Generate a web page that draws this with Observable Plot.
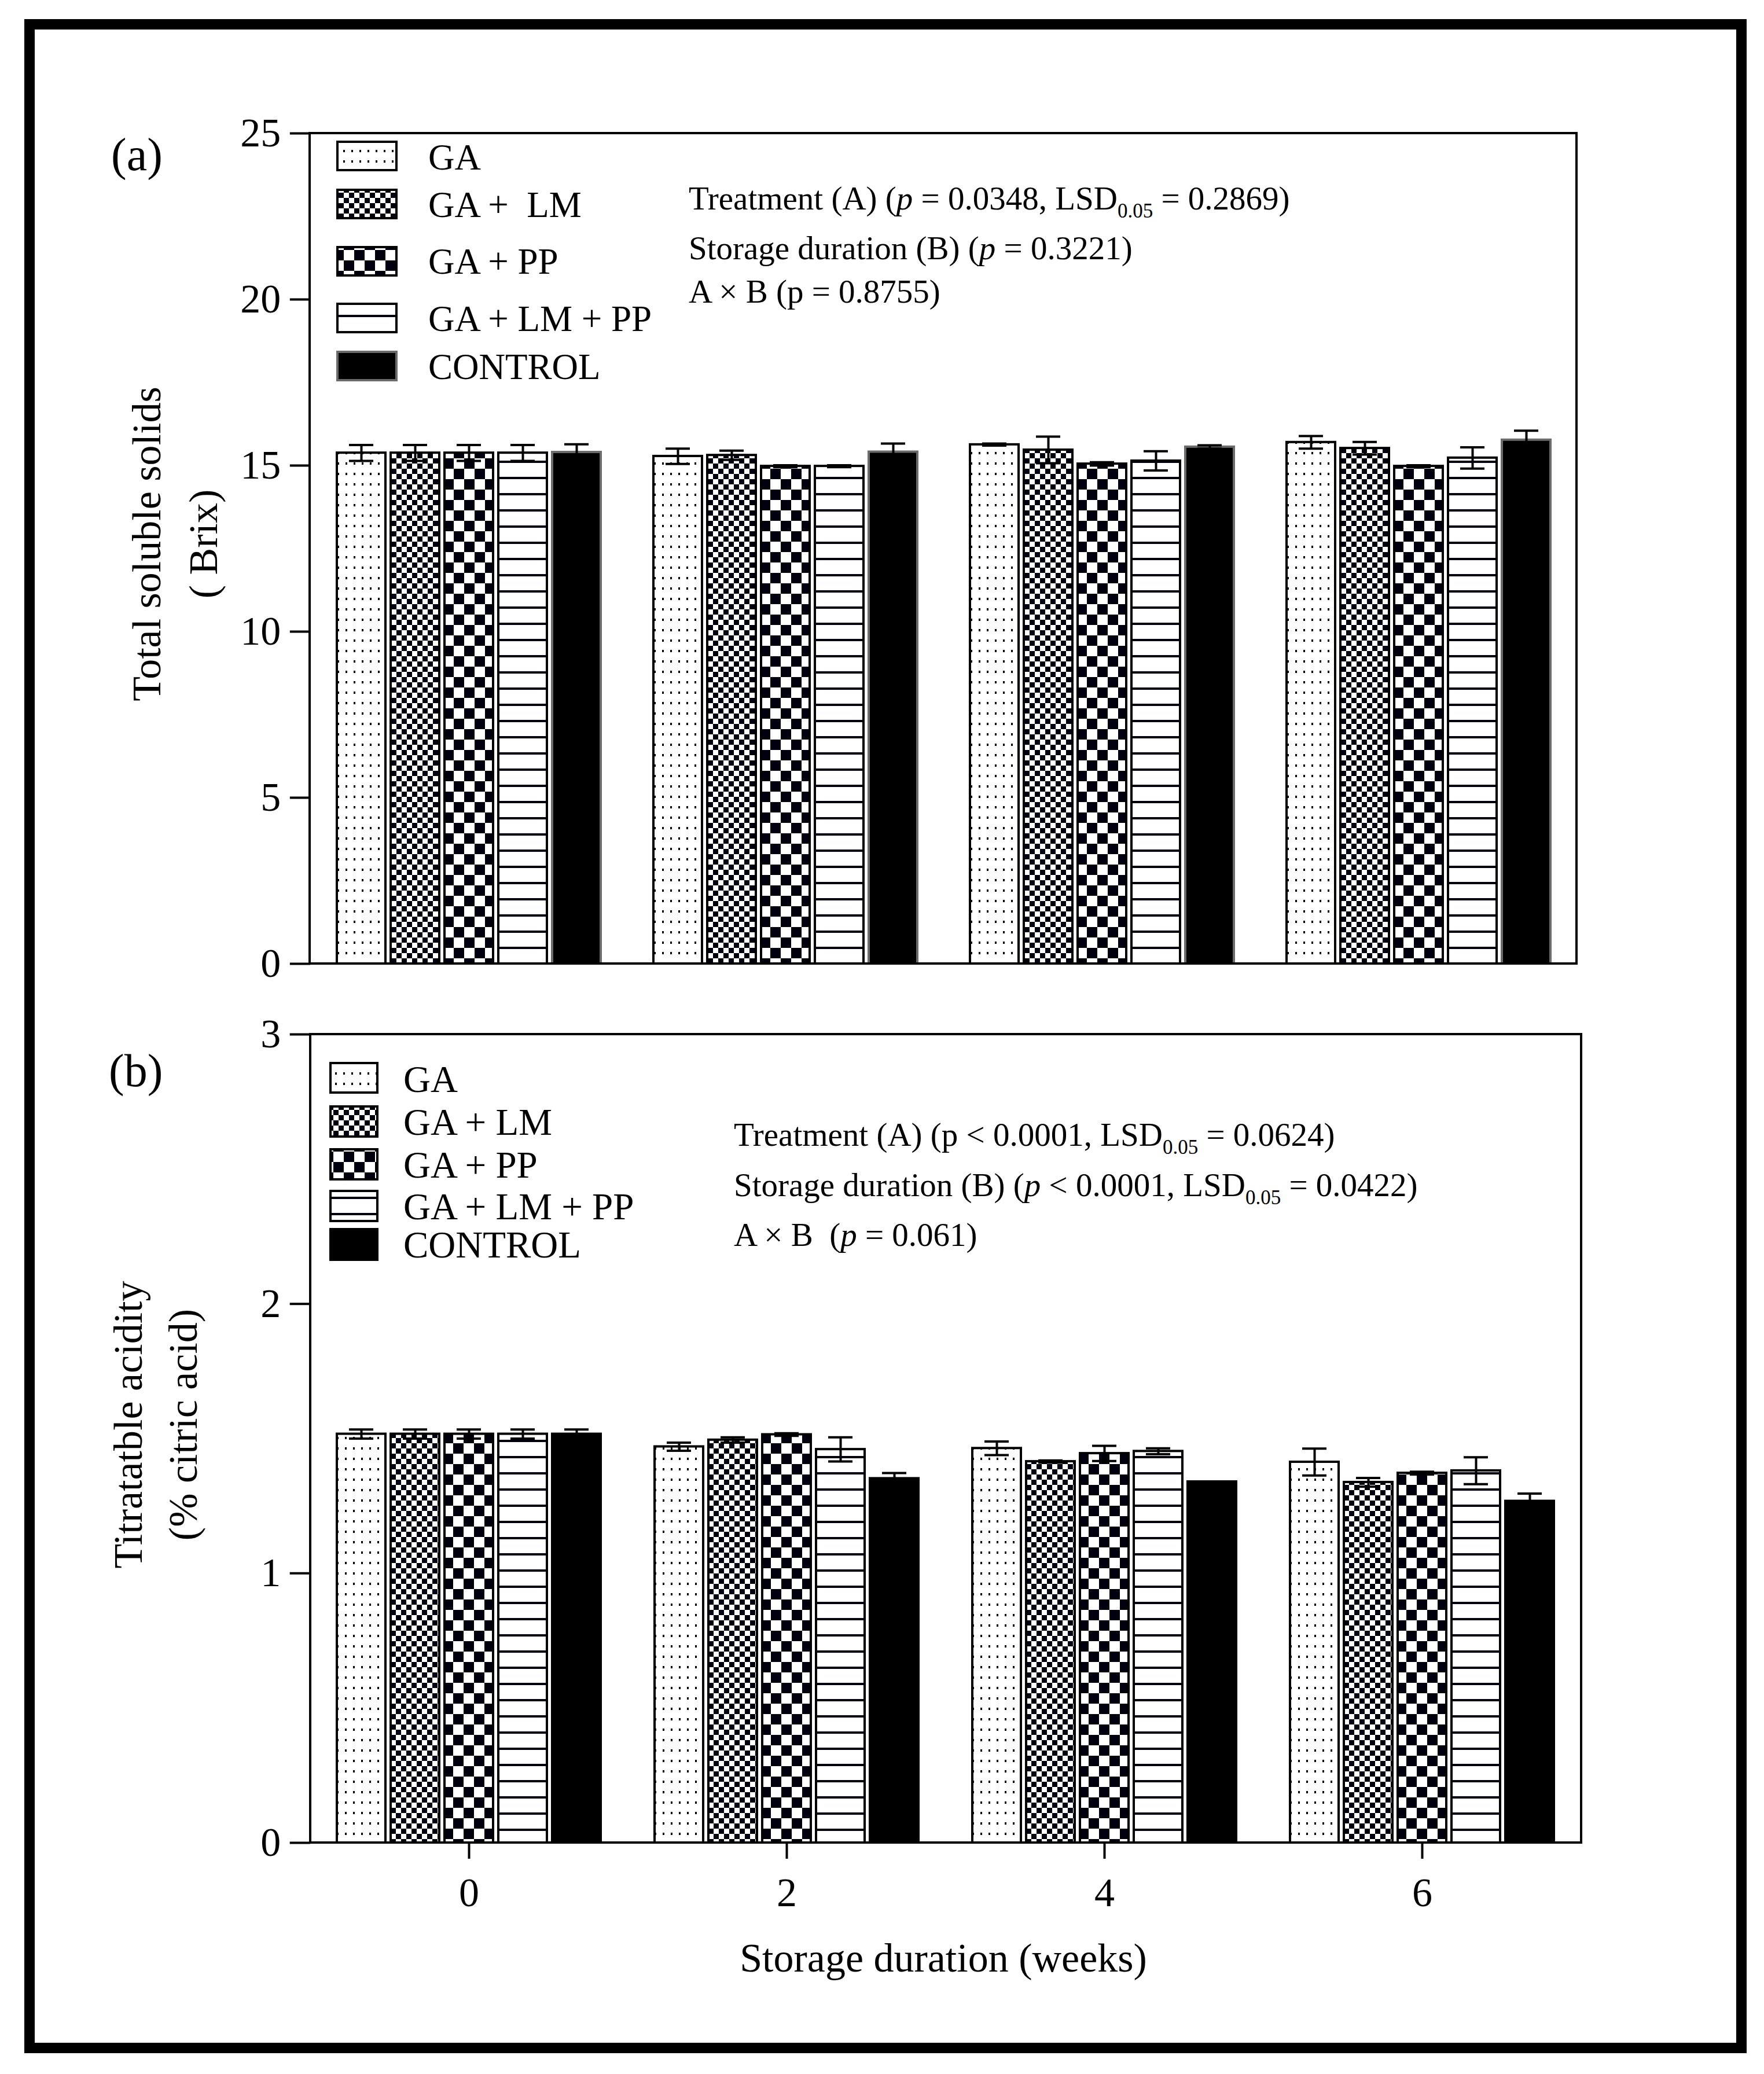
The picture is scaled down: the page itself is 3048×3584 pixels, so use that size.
<!DOCTYPE html>
<html>
<head>
<meta charset="utf-8">
<script src="https://cdn.jsdelivr.net/npm/d3@7"></script>
<script src="https://cdn.jsdelivr.net/npm/@observablehq/plot@0.6"></script>
<style>
html, body { margin: 0; padding: 0; background: #fff; }
#page { position: relative; width: 3048px; height: 3584px; overflow: hidden; background: #fff; font-family: "Liberation Serif", serif; }
#border { position: absolute; left: 42px; top: 33px; width: 2976px; height: 3515px; border: 18px solid #000; box-sizing: border-box; pointer-events: none; }
</style>
</head>
<body>
<div id="page"></div>
<script>
// ---------- data ----------
const weeks = ["0", "2", "4", "6"];
const treatments = ["GA", "GA + LM", "GA + PP", "GA + LM + PP", "CONTROL"];
const legendLabelsA = ["GA", "GA +  LM", "GA + PP", "GA + LM + PP", "CONTROL"];
const legendLabelsB = ["GA", "GA + LM", "GA + PP", "GA + LM + PP", "CONTROL"];
// rows follow treatments, columns follow weeks
const tssMean = [
  [15.38, 15.28, 15.63, 15.70],
  [15.38, 15.31, 15.47, 15.52],
  [15.38, 14.98, 15.05, 14.98],
  [15.38, 14.98, 15.14, 15.23],
  [15.40, 15.41, 15.56, 15.77]
];
const tssErr = [
  [0.24, 0.23, 0.03, 0.19],
  [0.24, 0.14, 0.40, 0.19],
  [0.24, 0.03, 0.05, 0.03],
  [0.24, 0.03, 0.29, 0.32],
  [0.24, 0.25, 0.05, 0.28]
];
const taMean = [
  [1.517, 1.470, 1.464, 1.413],
  [1.517, 1.495, 1.415, 1.338],
  [1.517, 1.515, 1.445, 1.372],
  [1.517, 1.460, 1.453, 1.381],
  [1.517, 1.352, 1.340, 1.268]
];
const taErr = [
  [0.017, 0.015, 0.025, 0.050],
  [0.017, 0.010, 0.004, 0.016],
  [0.017, 0.005, 0.028, 0.005],
  [0.017, 0.045, 0.011, 0.050],
  [0.017, 0.020, 0.000, 0.028]
];
const yTicksA = [0, 5, 10, 15, 20, 25];
const yTicksB = [0, 1, 2, 3];
const yLabelA = ["Total soluble solids", "( Brix)"];
const yLabelB = ["Titratatble acidity", "(% citric acid)"];
const xLabel = "Storage duration (weeks)";
const annotA = [
  [{t: "Treatment (A) ("}, {t: "p", i: 1}, {t: " = 0.0348, LSD"}, {t: "0.05", sub: 1}, {t: " = 0.2869)"}],
  [{t: "Storage duration (B) ("}, {t: "p", i: 1}, {t: " = 0.3221)"}],
  [{t: "A × B (p = 0.8755)"}]
];
const annotB = [
  [{t: "Treatment (A) (p < 0.0001, LSD"}, {t: "0.05", sub: 1}, {t: " = 0.0624)"}],
  [{t: "Storage duration (B) ("}, {t: "p", i: 1}, {t: " < 0.0001, LSD"}, {t: "0.05", sub: 1}, {t: " = 0.0422)"}],
  [{t: "A × B  ("}, {t: "p", i: 1}, {t: " = 0.061)"}]
];

// ---------- styling ----------
const DARK = "#00000f";
const FONT = "'Liberation Serif', 'Times New Roman', serif";
const patternKeys = ["dots", "small", "big", "lines", "solid"];
const FX_PAD_INNER = 0.165, FX_PAD_OUTER = 0.0825;

function defsHTML(p) {
  return `
  <pattern id="${p}dots" patternUnits="userSpaceOnUse" width="14" height="18">
    <rect width="14" height="18" fill="#fff"/><rect x="5" y="7" width="3" height="4" fill="#000"/>
  </pattern>
  <pattern id="${p}small" patternUnits="userSpaceOnUse" width="18" height="18">
    <rect width="18" height="18" fill="#fff"/><rect x="0" y="0" width="9" height="9" fill="${DARK}"/><rect x="9" y="9" width="9" height="9" fill="${DARK}"/>
  </pattern>
  <pattern id="${p}big" patternUnits="userSpaceOnUse" width="36" height="36">
    <rect width="36" height="36" fill="#fff"/><rect x="0" y="0" width="18" height="18" fill="${DARK}"/><rect x="18" y="18" width="18" height="18" fill="${DARK}"/>
  </pattern>
  <pattern id="${p}lines" patternUnits="userSpaceOnUse" width="10" height="28">
    <rect width="10" height="28" fill="#fff"/><rect x="0" y="12" width="10" height="4" fill="${DARK}"/>
  </pattern>`;
}

function richText(g, x, y, parts, size) {
  const t = g.append("text").attr("x", x).attr("y", y).attr("font-size", size)
    .attr("text-anchor", "start").attr("fill", "#000").style("white-space", "pre");
  const shift = Math.round(size * 0.25);
  let shifted = 0;
  for (const p of parts) {
    const sp = t.append("tspan").text(p.t);
    if (p.i) sp.attr("font-style", "italic");
    if (p.sub) { sp.attr("font-size", Math.round(size * 0.62)).attr("dy", shift); shifted = shift; }
    else if (shifted) { sp.attr("dy", -shifted); shifted = 0; }
  }
}

function makePanel(o) {
  const rows = [];
  treatments.forEach((t, i) => weeks.forEach((w, j) =>
    rows.push({treatment: t, week: w, value: o.mean[i][j], err: o.err[i][j], k: i})));
  const fill = d => d.k === 4 ? "#000" : `url(#${o.prefix}${patternKeys[d.k]})`;
  const stroke = d => d.k === 4 ? o.controlStroke : "#000";
  const innerW = 3048 - o.ml - o.mr;
  const outerGap = innerW / weeks.length * FX_PAD_OUTER; // distance between axis and first group
  const marks = [
    Plot.axisY({ticks: o.yTicks, tickFormat: d => String(d), tickSize: 35, tickPadding: 16,
                label: null, strokeWidth: 4, dx: -outerGap}),
    Plot.barY(rows, {fx: "week", x: "treatment", y: "value", fill, stroke, strokeWidth: 4}),
    Plot.ruleX(rows, {fx: "week", x: "treatment", y1: d => d.value - d.err, y2: d => d.value + d.err,
                      stroke: "#000", strokeWidth: 4}),
    Plot.tickY(rows, {fx: "week", x: "treatment", y: d => d.value + d.err, stroke: "#000", strokeWidth: 4, inset: 21}),
    Plot.tickY(rows, {fx: "week", x: "treatment", y: d => d.value - d.err, stroke: "#000", strokeWidth: 4, inset: 21})
  ];
  if (o.fxAxis) marks.push(Plot.axisFx({anchor: "bottom", tickSize: 28, tickPadding: 32, label: null, strokeWidth: 4}));
  const svg = Plot.plot({
    width: 3048,
    height: o.height,
    marginLeft: o.ml, marginRight: o.mr, marginTop: o.mt, marginBottom: o.mb,
    style: {fontFamily: FONT, fontSize: "70px", background: "transparent", color: "#000", overflow: "visible"},
    fx: {domain: weeks, paddingInner: FX_PAD_INNER, paddingOuter: FX_PAD_OUTER, axis: o.fxAxis ? undefined : null, label: null},
    x: {domain: treatments, axis: null, paddingInner: 0.1, paddingOuter: 0},
    y: {domain: o.yDomain, label: null},
    color: {type: "identity"},
    marks
  });
  svg.style.position = "absolute";
  svg.style.left = "0px";
  svg.style.top = o.top + "px";
  const s = d3.select(svg);
  s.insert("defs", ":first-child").html(defsHTML(o.prefix));
  // frame
  s.append("rect").attr("x", o.ml).attr("y", o.mt)
    .attr("width", innerW).attr("height", o.height - o.mt - o.mb)
    .attr("fill", "none").attr("stroke", "#000").attr("stroke-width", 4);
  const g = s.append("g").attr("font-family", FONT).attr("fill", "#000").attr("text-anchor", "start");
  // legend
  o.legend.labels.forEach((lab, i) => {
    const sw = o.legend.swatches[i];
    g.append("rect").attr("x", o.legend.x).attr("y", sw[0]).attr("width", o.legend.w).attr("height", sw[1])
      .attr("fill", i === 4 ? "#000" : `url(#${o.prefix}${patternKeys[i]})`)
      .attr("stroke", i === 4 ? o.legend.controlStroke : "#000").attr("stroke-width", 4);
    g.append("text").attr("x", o.legend.tx).attr("y", o.legend.base[i]).attr("font-size", o.legend.size)
      .attr("text-anchor", "start").style("white-space", "pre").text(lab);
  });
  // annotations
  o.annot.lines.forEach((parts, i) => richText(g, o.annot.x, o.annot.base[i], parts, o.annot.size));
  // panel letter
  g.append("text").attr("x", o.letter.x).attr("y", o.letter.y).attr("font-size", 80)
    .attr("text-anchor", "start").text(o.letter.t);
  // y label (two lines)
  o.ylab.lines.forEach((line, i) => {
    g.append("text").attr("transform", `translate(${o.ylab.xs[i]},${o.ylab.y}) rotate(-90)`)
      .attr("text-anchor", "middle").attr("font-size", o.ylab.size).style("white-space", "pre").text(line);
  });
  if (o.xlab) {
    g.append("text").attr("x", o.xlab.x).attr("y", o.xlab.y).attr("text-anchor", "middle")
      .attr("font-size", o.xlab.size).text(o.xlab.t);
  }
  return svg;
}

const page = document.getElementById("page");

page.appendChild(makePanel({
  prefix: "a-", top: 0, height: 1720, ml: 535, mr: 324, mt: 230, mb: 55,
  mean: tssMean, err: tssErr, yDomain: [0, 25], yTicks: yTicksA, fxAxis: false, controlStroke: "#6b6b6b",
  legend: {labels: legendLabelsA, x: 583, w: 102, tx: 740, size: 63, controlStroke: "#6b6b6b",
           swatches: [[245, 49], [328, 49], [427, 49], [525, 49], [608, 49]],
           base: [293, 375, 473, 572, 655]},
  annot: {lines: annotA, x: 1190, base: [362, 448, 523], size: 57},
  letter: {t: "(a)", x: 192, y: 294},
  ylab: {lines: yLabelA, xs: [277, 375], y: 940, size: 70}
}));

page.appendChild(makePanel({
  prefix: "b-", top: 1720, height: 1864, ml: 536, mr: 316, mt: 67, mb: 400,
  mean: taMean, err: taErr, yDomain: [0, 3], yTicks: yTicksB, fxAxis: true, controlStroke: "#000",
  legend: {labels: legendLabelsB, x: 571, w: 81, tx: 697, size: 65, controlStroke: "#000",
           swatches: [[117, 51], [192, 52], [266, 52], [338, 52], [404, 53]],
           base: [167, 241, 315, 387, 453]},
  annot: {lines: annotB, x: 1268, base: [260, 347, 433], size: 57},
  letter: {t: "(b)", x: 188, y: 157},
  ylab: {lines: yLabelB, xs: [245, 340], y: 742, size: 70},
  xlab: {t: xLabel, x: 1630, y: 1687, size: 70}
}));

const border = document.createElement("div");
border.id = "border";
page.appendChild(border);
</script>
</body>
</html>
